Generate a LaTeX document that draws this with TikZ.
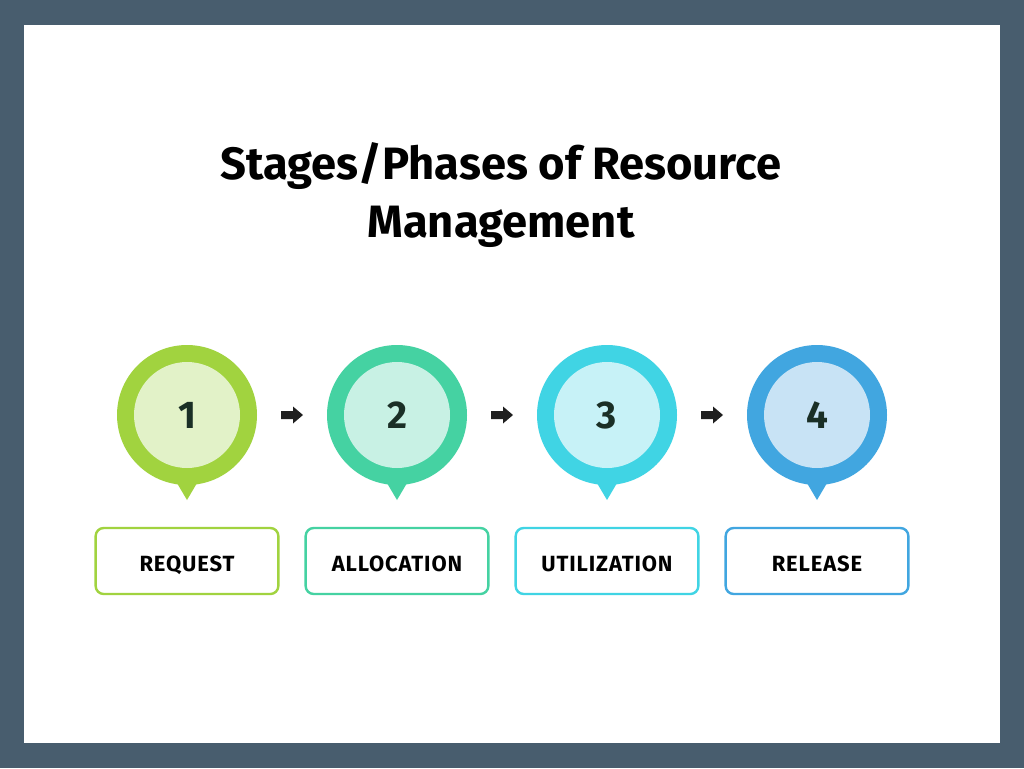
\documentclass[tikz,border=0pt]{standalone}
\usepackage{fontspec}
\setmainfont{Fira Sans}
\usetikzlibrary{calc}

\definecolor{frame}{HTML}{485D6E}
\definecolor{ringA}{HTML}{A1D33F}
\definecolor{coreA}{HTML}{E2F2C8}
\definecolor{ringB}{HTML}{45D2A2}
\definecolor{coreB}{HTML}{C8F1E4}
\definecolor{ringC}{HTML}{40D4E4}
\definecolor{coreC}{HTML}{C7F2F7}
\definecolor{ringD}{HTML}{41A6E0}
\definecolor{coreD}{HTML}{C8E3F5}
\definecolor{numtext}{HTML}{1A2F26}

\tikzset{
  ring/.style={circle,fill=#1,minimum size=105pt,inner sep=0pt},
  core/.style={circle,fill=#1,minimum size=79.5pt,inner sep=0pt,
    font=\bfseries\fontsize{29}{32}\selectfont,text=numtext},
  stagebox/.style={draw=#1,line width=1.8pt,rounded corners=6pt,fill=white,
    minimum width=137pt,minimum height=49.5pt,inner sep=0pt,
    text height=15pt,text depth=0pt,
    font=\bfseries\fontsize{16.5}{18}\selectfont\addfontfeature{LetterSpace=4}},
  flowarrow/.style={fill=black!88}
}

\begin{document}
\begin{tikzpicture}[x=0.75pt,y=-0.75pt,line cap=round,line join=round]
% frame and sheet
\fill[frame] (0,0) rectangle (1024,768);
\fill[white] (24,25) rectangle (1000,743);
% title
\node[font=\bfseries\fontsize{34}{44}\selectfont,align=center] (title) at (501,195)
  {Stages/Phases of Resource\\Management};
% stages
\foreach \i/\x/\c/\t in {1/187/A/REQUEST,2/397/B/ALLOCATION,3/607/C/UTILIZATION,4/817/D/RELEASE}{
  \fill[ring\c] (\x-13,478) -- (\x+13,478) -- (\x,500) -- cycle;
  \node[ring=ring\c] (ring\i) at (\x,415) {};
  \node[core=core\c] (num\i) at (\x,415) {\i};
  \node[stagebox=ring\c] (label\i) at (\x,561) {\t};
}
% arrows between the stages
\foreach \a/\b in {1/2,2/3,3/4}{
  \coordinate (arr\a) at ($(ring\a)!0.5!(ring\b)$);
  \fill[flowarrow] (arr\a) ++(-11,-4) -- ++(12,0) -- ++(0,-4.5) -- ++(10,8.5)
    -- ++(-10,8.5) -- ++(0,-4.5) -- ++(-12,0) -- cycle;
}
\end{tikzpicture}
\end{document}
